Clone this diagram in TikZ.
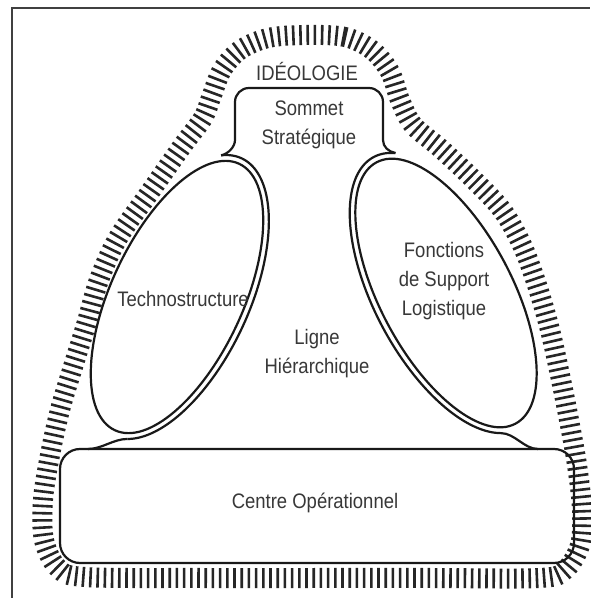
\documentclass[tikz,border=0pt]{standalone}
\usepackage{fontspec}
\newfontfamily\lblfont[FakeStretch=0.88]{Liberation Sans}
\usetikzlibrary{decorations.pathreplacing}
\begin{document}
\begin{tikzpicture}[x=1pt,y=1pt,
  outline/.style={line width=2.2pt, black!90},
  hatch/.style={decorate, decoration={ticks, segment length=7.2pt, amplitude=10pt}, line width=2.6pt, black!85},
  lbl/.style={font=\lblfont\fontsize{21}{29}\selectfont, text=black!78, align=center, inner sep=0pt},
]
\useasboundingbox (0,0) rectangle (590,598);
\fill[white] (0,0) rectangle (590,598);
% frame
\draw[line width=1.6pt, black!75] (12,0) -- (12,590) -- (590,590);
% ideology band
\draw[hatch] plot[smooth cycle, tension=0.55] coordinates {
 (305,563) (345,561) (372,548) (390,526) (400,498) (413,473) (440,450) (472,420)
 (502,388) (522,353) (537,313) (550,268) (560,223) (569,178) (577,133) (582,88)
 (580,53) (565,28) (540,20) (430,20) (315,20) (200,20) (85,21) (58,30) (44,58)
 (43,98) (50,143) (60,188) (72,228) (86,273) (99,318) (118,360) (150,406)
 (183,453) (203,480) (212,503) (222,528) (240,548) (268,560)};
% centre operationnel
\draw[outline, rounded corners=20pt] (60,35) rectangle (574,149);
% left ellipse
\begin{scope}[shift={(177,301)}, rotate=65]
  \draw[outline] (0,0) ellipse [x radius=147, y radius=66];
  \draw[outline] plot[domain=16:-168, samples=90] ({153*cos(\x)},{72*sin(\x)});
  \coordinate (JL) at ({153*cos(16)},{72*sin(16)});
  \coordinate (LB) at ({153*cos(-168)},{72*sin(-168)});
\end{scope}
% right ellipse
\begin{scope}[shift={(446,305)}, rotate=118]
  \draw[outline] (0,0) ellipse [x radius=148, y radius=66];
  \draw[outline] plot[domain=-17:166, samples=90] ({154*cos(\x)},{72*sin(\x)});
  \coordinate (JR) at ({154*cos(-17)},{72*sin(-17)});
  \coordinate (RB) at ({154*cos(166)},{72*sin(166)});
\end{scope}
% sommet strategique
\draw[outline] (JL) .. controls +(7,1.5) and +(0,-7) .. (235,458) -- (235,496)
  arc[start angle=180, end angle=90, radius=14] -- (369,510)
  arc[start angle=90, end angle=0, radius=14] -- (383,458)
  .. controls +(0,-7) and +(-7,1.5) .. (JR);
\coordinate (LBox) at (88,149);
\coordinate (RBox) at (538,149);
\draw[outline] (LB) .. controls +(-14,0) and +(14,0) .. (LBox);
\draw[outline] (RB) .. controls +(14,0) and +(-14,0) .. (RBox);
% labels
\node[lbl] (ideo) at (307,527) {IDÉOLOGIE};
\node[lbl] (sommet) at (309,473) {Sommet\\Stratégique};
\node[lbl] (techno) at (183,299) {Technostructure};
\node[lbl] (ligne) at (317,244) {Ligne\\Hiérarchique};
\node[lbl] (support) at (444,317) {Fonctions\\de Support\\Logistique};
\node[lbl] (centre) at (315,95) {Centre Opérationnel};
\end{tikzpicture}
\end{document}
